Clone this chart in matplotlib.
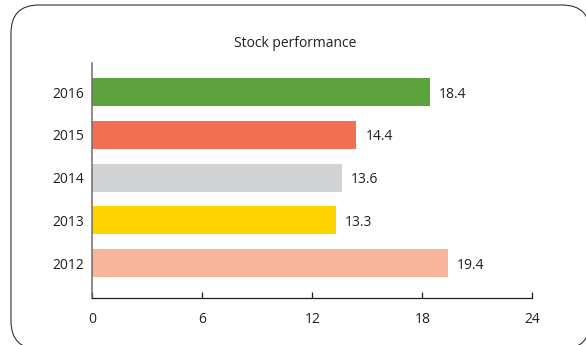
import matplotlib
matplotlib.use("Agg")
import matplotlib.pyplot as plt
from matplotlib.patches import FancyBboxPatch

years = ["2012", "2013", "2014", "2015", "2016"]
values = [19.4, 13.3, 13.6, 14.4, 18.4]
colors = ["#F9B59C", "#FFD200", "#D1D3D4", "#F36F51", "#5DA33B"]
xticks = [0, 6, 12, 18, 24]
title = "Stock performance"

plt.rcParams['font.family'] = ['Open Sans', 'DejaVu Sans']
text_color = "#231F20"

fig = plt.figure(figsize=(5.86, 3.45), dpi=100)

# background frame (pixel coordinates)
bg = fig.add_axes([0, 0, 1, 1])
bg.set_xlim(0, 586)
bg.set_ylim(345, 0)
bg.axis("off")
frame = FancyBboxPatch((11, 5), 579, 344,
                       boxstyle="round,pad=0,rounding_size=28",
                       facecolor="white", edgecolor="#333333",
                       linewidth=0.8, clip_on=False)
bg.add_patch(frame)

ax = fig.add_axes([0.1575, 0.137, 0.7509, 0.679])
ax.set_facecolor("none")
bars = ax.barh(years, values, height=0.655, color=colors)
labels = ax.bar_label(bars, labels=[f"{v:.1f}" for v in values], padding=6.5,
                      fontsize=10, color=text_color)
for t in labels:
    t.xyann = (6.5, -1.5)

ax.set_xlim(0, 24)
ax.set_ylim(-0.81, 4.667)
ax.set_xticks(xticks)
ax.set_xticklabels([str(t) for t in xticks])

for s in ["top", "right"]:
    ax.spines[s].set_visible(False)
ax.spines["left"].set_color("#6d6e71")
ax.spines["left"].set_linewidth(1.1)
ax.spines["bottom"].set_color("#231F20")
ax.spines["bottom"].set_linewidth(0.9)

ax.tick_params(axis="x", direction="in", length=4, width=0.9,
               color="#231F20", pad=10, labelsize=10, labelcolor=text_color)
ax.tick_params(axis="y", length=0, pad=6, labelsize=10, labelcolor=text_color)

fig.text(0.503, 0.875, title, ha="center", va="center",
         fontsize=10, color=text_color)

fig.savefig("out.png", dpi=100)
